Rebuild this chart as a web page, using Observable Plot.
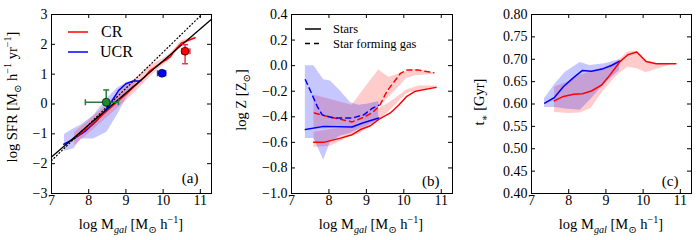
<!DOCTYPE html>
<html><head><meta charset="utf-8">
<script src="https://cdn.jsdelivr.net/npm/d3@7"></script>
<script src="https://cdn.jsdelivr.net/npm/@observablehq/plot@0.6"></script>
<style>
body{margin:0;background:#fff}
#wrap{position:relative;width:698px;height:240px}
#wrap svg{position:absolute;top:0}
</style></head><body><div id="wrap"></div>
<script>
// ---------- shared ----------
const xTicks = [7, 8, 9, 10, 11];
const RED = "#ff0000", BLUE = "#0000ff";

// ---------- panel (a): SFR ----------
const aYTicks = [-3, -2, -1, 0, 1, 2, 3];
const aBlackX = [7.0, 11.3];
const aBlackY = [-1.78, 2.84];
const aDotX = [7.0, 11.04];
const aDotY = [-1.9, 3.0];
const aRedX = [7.62, 8.0, 8.5, 9.0, 9.5, 9.65, 10.0, 10.1, 10.19, 10.3, 10.5, 10.86];
const aRedY = [-1.15, -0.78, -0.22, 0.33, 0.9, 1.12, 1.42, 1.5, 1.58, 1.78, 2.05, 2.22];
const aRedBandX = [7.62, 8.0, 8.5, 9.0, 9.3, 9.6, 10.0, 10.2, 10.5, 10.86];
const aRedBandLo = [-1.39, -1.0, -0.45, 0.1, 0.45, 0.85, 1.3, 1.5, 1.95, 2.18];
const aRedBandHi = [-0.95, -0.55, 0.0, 0.6, 0.9, 1.25, 1.52, 1.7, 2.12, 2.26];
const aBlueX = [7.33, 7.6, 7.9, 8.2, 8.45, 8.6, 8.8, 9.0, 9.2, 9.4];
const aBlueY = [-1.35, -1.17, -0.92, -0.58, -0.22, 0.05, 0.45, 0.68, 0.77, 0.77];
const aBlueBandX = [7.35, 7.6, 7.8, 8.13, 8.49, 8.76, 9.03, 9.3];
const aBlueBandHi = [-1.02, -0.83, -0.7, -0.39, 0.17, 0.52, 0.73, 0.79];
const aBlueBandLo = [-1.58, -1.5, -1.17, -1.17, -0.95, -0.39, 0.23, 0.75];
// observational points with error bars
const ptX = [8.47, 9.97, 10.59];
const ptY = [0.06, 1.03, 1.77];
const ptXlo = [7.91, 9.85, 10.5];
const ptXhi = [8.80, 10.07, 10.72];
const ptYlo = [0.06, 1.03, 1.35];
const ptYhi = [0.47, 1.03, 1.99];
const ptFill = ["#1a8a2a", "#0000ff", "#ff0000"];
const ptErr = ["#2a7a3a", "#2040e0", "#ee3355"];
const aLegend = ["CR", "UCR"];

// ---------- panel (b): metallicity ----------
const bYTicks = [-1.0, -0.8, -0.6, -0.4, -0.2, 0.0, 0.2, 0.4];
const bRedStarX = [7.59, 7.86, 8.31, 8.62, 8.84, 9.11, 9.33, 9.64, 9.86, 10.08, 10.31, 10.86];
const bRedStarY = [-0.60, -0.60, -0.567, -0.54, -0.50, -0.47, -0.42, -0.37, -0.31, -0.24, -0.20, -0.17];
const bRedGasX = [7.61, 7.86, 8.31, 8.62, 8.88, 9.15, 9.35, 9.55, 9.73, 9.91, 10.08, 10.4, 10.8];
const bRedGasY = [-0.37, -0.39, -0.42, -0.44, -0.41, -0.37, -0.315, -0.20, -0.13, -0.06, -0.035, -0.035, -0.056];
const bRedStarBandX = [7.6, 8.04, 8.57, 8.84, 9.37, 9.6, 10.08, 10.4, 10.87];
const bRedStarBandLo = [-0.64, -0.63, -0.555, -0.53, -0.42, -0.36, -0.22, -0.19, -0.18];
const bRedStarBandHi = [-0.52, -0.50, -0.48, -0.45, -0.33, -0.295, -0.19, -0.16, -0.16];
const bRedGasBandX = [7.6, 8.62, 9.0, 9.33, 9.6, 10.08, 10.31, 10.8];
const bRedGasBandLo = [-0.50, -0.48, -0.42, -0.33, -0.25, -0.10, -0.08, -0.07];
const bRedGasBandHi = [-0.23, -0.31, -0.16, -0.035, -0.09, -0.045, -0.03, -0.055];
const bBlueStarX = [7.37, 7.86, 8.62, 8.88, 9.33];
const bBlueStarY = [-0.50, -0.475, -0.48, -0.45, -0.41];
const bBlueGasX = [7.37, 7.51, 7.69, 7.82, 8.13, 8.62, 8.93, 9.15, 9.33];
const bBlueGasY = [-0.11, -0.20, -0.32, -0.385, -0.41, -0.41, -0.385, -0.335, -0.31];
const bBlueBandX = [7.37, 7.6, 7.86, 8.04, 8.31, 8.58, 8.8, 9.05, 9.33];
const bBlueBandHi = [0.0, 0.0, -0.11, -0.12, -0.2, -0.29, -0.31, -0.30, -0.28];
const bBlueBandLo = [-0.57, -0.57, -0.74, -0.60, -0.55, -0.53, -0.50, -0.47, -0.43];
const bLegend = ["Stars", "Star forming gas"];

// ---------- panel (c): stellar age ----------
const cYTicks = [0.40, 0.45, 0.50, 0.55, 0.60, 0.65, 0.70, 0.75, 0.80];
const cBlueX = [7.355, 7.61, 7.86, 8.13, 8.37, 8.61, 8.93, 9.15, 9.37];
const cBlueY = [0.602, 0.614, 0.639, 0.659, 0.675, 0.673, 0.679, 0.686, 0.696];
const cRedX = [7.61, 7.86, 8.13, 8.37, 8.61, 8.88, 9.1, 9.37, 9.59, 9.83, 10.08, 10.35, 10.88];
const cRedY = [0.607, 0.617, 0.622, 0.623, 0.629, 0.642, 0.664, 0.694, 0.710, 0.716, 0.695, 0.690, 0.690];
const cBlueBandX = [7.35, 7.64, 7.91, 8.31, 8.57, 8.97, 9.37];
const cBlueBandHi = [0.612, 0.645, 0.671, 0.693, 0.686, 0.690, 0.699];
const cBlueBandLo = [0.592, 0.592, 0.589, 0.586, 0.608, 0.645, 0.675];
const cRedBandX = [7.62, 8.0, 8.31, 8.6, 8.9, 9.2, 9.37, 9.59, 9.84, 10.08, 10.4, 10.84];
const cRedBandHi = [0.638, 0.650, 0.664, 0.672, 0.680, 0.690, 0.699, 0.716, 0.718, 0.697, 0.690, 0.690];
const cRedBandLo = [0.581, 0.579, 0.580, 0.590, 0.625, 0.655, 0.668, 0.682, 0.679, 0.670, 0.678, 0.690];

// ---------- helpers ----------
const FONT = "Liberation Serif, DejaVu Serif, serif";
const rows = (xs, ys) => xs.map((x, i) => ({x, y: ys[i]}));
const band = (xs, lo, hi) => xs.map((x, i) => ({x, lo: lo[i], hi: hi[i]}));
const H = 240, MT = 14, MB = 47, FH = H - MT - MB;

function frameMarks(yTicks, fw, yFmt) {
  return [
    Plot.frame({stroke: "black", strokeWidth: 1}),
    Plot.tickY(yTicks, {y: d => d, insetRight: fw - 4, stroke: "black"}),
    Plot.tickY(yTicks, {y: d => d, insetLeft: fw - 4, stroke: "black"}),
    Plot.tickX(xTicks, {x: d => d, insetTop: FH - 4, stroke: "black"}),
    Plot.tickX(xTicks, {x: d => d, insetBottom: FH - 4, stroke: "black"}),
    Plot.axisX(xTicks, {tickSize: 0, tickPadding: 2, tickFormat: d3.format("d"), label: null, fontSize: 14}),
    Plot.axisY(yTicks, {tickSize: 0, tickPadding: 4, tickFormat: yFmt, label: null, fontSize: 14})
  ];
}

function rich(svg, segs, x, y, fs, rotate) {
  const t = d3.select(svg).append("text")
    .attr("font-family", FONT).attr("font-size", fs).attr("fill", "black")
    .attr("text-anchor", "middle")
    .attr("transform", rotate ? `translate(${x},${y}) rotate(-90)` : `translate(${x},${y})`);
  let shift = 0;
  for (const s of segs) {
    const target = s.sub ? 0.28 * fs : s.sup ? -0.4 * fs : 0;
    const ts = t.append("tspan").text(s.t).attr("dy", target - shift);
    if (s.sub || s.sup) ts.attr("font-size", 0.7 * fs);
    if (s.it) ts.attr("font-style", "italic");
    shift = target;
  }
}
const xLabelSegs = [{t: "log M"}, {t: "gal", sub: true, it: true}, {t: " [M"}, {t: "⊙", sub: true}, {t: " h"}, {t: "−1", sup: true}, {t: "]"}];

function legendLine(svg, x1, x2, y, color, dash) {
  d3.select(svg).append("line").attr("x1", x1).attr("x2", x2).attr("y1", y).attr("y2", y)
    .attr("stroke", color).attr("stroke-width", 1.5).attr("stroke-dasharray", dash || null);
}
function legendText(svg, x, y, txt, fs) {
  d3.select(svg).append("text").attr("x", x).attr("y", y).attr("dy", "0.32em")
    .attr("text-anchor", "start")
    .attr("font-family", FONT).attr("font-size", fs).text(txt);
}
const capH = {draw(ctx, size) { const h = Math.sqrt(size / Math.PI); ctx.moveTo(-h, 0); ctx.lineTo(h, 0); }};
const capV = {draw(ctx, size) { const h = Math.sqrt(size / Math.PI); ctx.moveTo(0, -h); ctx.lineTo(0, h); }};

const wrap = document.getElementById("wrap");
const common = (w, ml, mr, ydom) => ({
  width: w, height: H, marginLeft: ml, marginRight: mr, marginTop: MT, marginBottom: MB,
  x: {domain: [7, 11.3]}, y: {domain: ydom}, color: {type: "identity"},
  style: {fontFamily: FONT, fontSize: "14px", background: "transparent", overflow: "visible", color: "black"}
});

// ---------- build panel (a) ----------
const pts = ptX.map((x, i) => ({x, y: ptY[i], xlo: ptXlo[i], xhi: ptXhi[i], ylo: ptYlo[i], yhi: ptYhi[i], f: ptFill[i], e: ptErr[i]}));
const capsV = pts.flatMap(p => p.xhi > p.xlo ? [{x: p.xlo, y: p.y, e: p.e}, {x: p.xhi, y: p.y, e: p.e}] : []);
const capsH = pts.flatMap(p => [p.ylo < p.y ? {x: p.x, y: p.ylo, e: p.e} : null, p.yhi > p.y ? {x: p.x, y: p.yhi, e: p.e} : null].filter(Boolean));
const A = Plot.plot({
  ...common(232, 51, 21, [-3, 3]),
  marks: [
    Plot.areaY(band(aBlueBandX, aBlueBandLo, aBlueBandHi), {x: "x", y1: "lo", y2: "hi", fill: BLUE, fillOpacity: 0.22}),
    Plot.areaY(band(aRedBandX, aRedBandLo, aRedBandHi), {x: "x", y1: "lo", y2: "hi", fill: RED, fillOpacity: 0.2}),
    Plot.line(rows(aBlueX, aBlueY), {x: "x", y: "y", stroke: BLUE, strokeWidth: 1.5}),
    Plot.line(rows(aRedX, aRedY), {x: "x", y: "y", stroke: RED, strokeWidth: 1.5}),
    Plot.line(rows(aDotX, aDotY), {x: "x", y: "y", stroke: "black", strokeWidth: 1.2, strokeDasharray: "1,2.5"}),
    Plot.line(rows(aBlackX, aBlackY), {x: "x", y: "y", stroke: "black", strokeWidth: 1.3}),
    Plot.ruleX(pts, {x: "x", y1: "ylo", y2: "yhi", stroke: "e", strokeWidth: 1.5}),
    Plot.ruleY(pts, {y: "y", x1: "xlo", x2: "xhi", stroke: "e", strokeWidth: 1.5}),
    Plot.dot(capsV, {x: "x", y: "y", symbol: capV, r: 3, stroke: "e", fill: "none", strokeWidth: 1.5}),
    Plot.dot(capsH, {x: "x", y: "y", symbol: capH, r: 3, stroke: "e", fill: "none", strokeWidth: 1.5}),
    Plot.dot(pts, {x: "x", y: "y", r: 4, fill: "f", stroke: "black", strokeWidth: 0.6}),
    Plot.text(["(a)"], {text: d => d, frameAnchor: "bottom-right", dx: -13, dy: -11, textAnchor: "end", lineAnchor: "bottom", fontSize: 15}),
    ...frameMarks(aYTicks, 160, d3.format("d"))
  ]
});
A.style.left = "0px";
wrap.appendChild(A);
legendLine(A, 68, 88, 32, RED);
legendLine(A, 68, 88, 52, BLUE);
legendText(A, 101, 32, aLegend[0], 16);
legendText(A, 100, 52, aLegend[1], 16);
rich(A, xLabelSegs, 131, 229, 14.5, false);
rich(A, [{t: "log SFR [M"}, {t: "⊙", sub: true}, {t: " h"}, {t: "−1", sup: true}, {t: " yr"}, {t: "−1", sup: true}, {t: "]"}], 17, 97, 14.5, true);

// ---------- build panel (b) ----------
const B = Plot.plot({
  ...common(232, 59, 12, [-1.0, 0.4]),
  marks: [
    Plot.areaY(band(bRedStarBandX, bRedStarBandLo, bRedStarBandHi), {x: "x", y1: "lo", y2: "hi", fill: RED, fillOpacity: 0.2}),
    Plot.areaY(band(bRedGasBandX, bRedGasBandLo, bRedGasBandHi), {x: "x", y1: "lo", y2: "hi", fill: RED, fillOpacity: 0.2}),
    Plot.areaY(band(bBlueBandX, bBlueBandLo, bBlueBandHi), {x: "x", y1: "lo", y2: "hi", fill: BLUE, fillOpacity: 0.22}),
    Plot.line(rows(bRedStarX, bRedStarY), {x: "x", y: "y", stroke: RED, strokeWidth: 1.5}),
    Plot.line(rows(bRedGasX, bRedGasY), {x: "x", y: "y", stroke: RED, strokeWidth: 1.5, strokeDasharray: "5,4"}),
    Plot.line(rows(bBlueStarX, bBlueStarY), {x: "x", y: "y", stroke: BLUE, strokeWidth: 1.5}),
    Plot.line(rows(bBlueGasX, bBlueGasY), {x: "x", y: "y", stroke: BLUE, strokeWidth: 1.5, strokeDasharray: "5,4"}),
    Plot.text(["(b)"], {text: d => d, frameAnchor: "bottom-right", dx: -13, dy: -8, textAnchor: "end", lineAnchor: "bottom", fontSize: 15}),
    ...frameMarks(bYTicks, 161, d3.format(".1f"))
  ]
});
B.style.left = "232px";
wrap.appendChild(B);
legendLine(B, 73, 89, 29, "black");
legendLine(B, 73, 89, 43.5, "black", "5,4");
legendText(B, 101, 29, bLegend[0], 12.5);
legendText(B, 101, 43.5, bLegend[1], 12.5);
rich(B, xLabelSegs, 139, 229, 14.5, false);
rich(B, [{t: "log Z [Z"}, {t: "⊙", sub: true}, {t: "]"}], 14, 100, 14.5, true);

// ---------- build panel (c) ----------
const C = Plot.plot({
  ...common(234, 67, 7, [0.4, 0.8]),
  marks: [
    Plot.areaY(band(cRedBandX, cRedBandLo, cRedBandHi), {x: "x", y1: "lo", y2: "hi", fill: RED, fillOpacity: 0.2}),
    Plot.areaY(band(cBlueBandX, cBlueBandLo, cBlueBandHi), {x: "x", y1: "lo", y2: "hi", fill: BLUE, fillOpacity: 0.22}),
    Plot.line(rows(cBlueX, cBlueY), {x: "x", y: "y", stroke: BLUE, strokeWidth: 1.5}),
    Plot.line(rows(cRedX, cRedY), {x: "x", y: "y", stroke: RED, strokeWidth: 1.5}),
    Plot.text(["(c)"], {text: d => d, frameAnchor: "bottom-right", dx: -13, dy: -8, textAnchor: "end", lineAnchor: "bottom", fontSize: 15}),
    ...frameMarks(cYTicks, 160, d3.format(".2f"))
  ]
});
C.style.left = "464px";
wrap.appendChild(C);
rich(C, xLabelSegs, 147, 229, 14.5, false);
rich(C, [{t: "t"}, {t: "∗", sub: true}, {t: " [Gyr]"}], 20, 102, 14.5, true);
</script></body></html>
